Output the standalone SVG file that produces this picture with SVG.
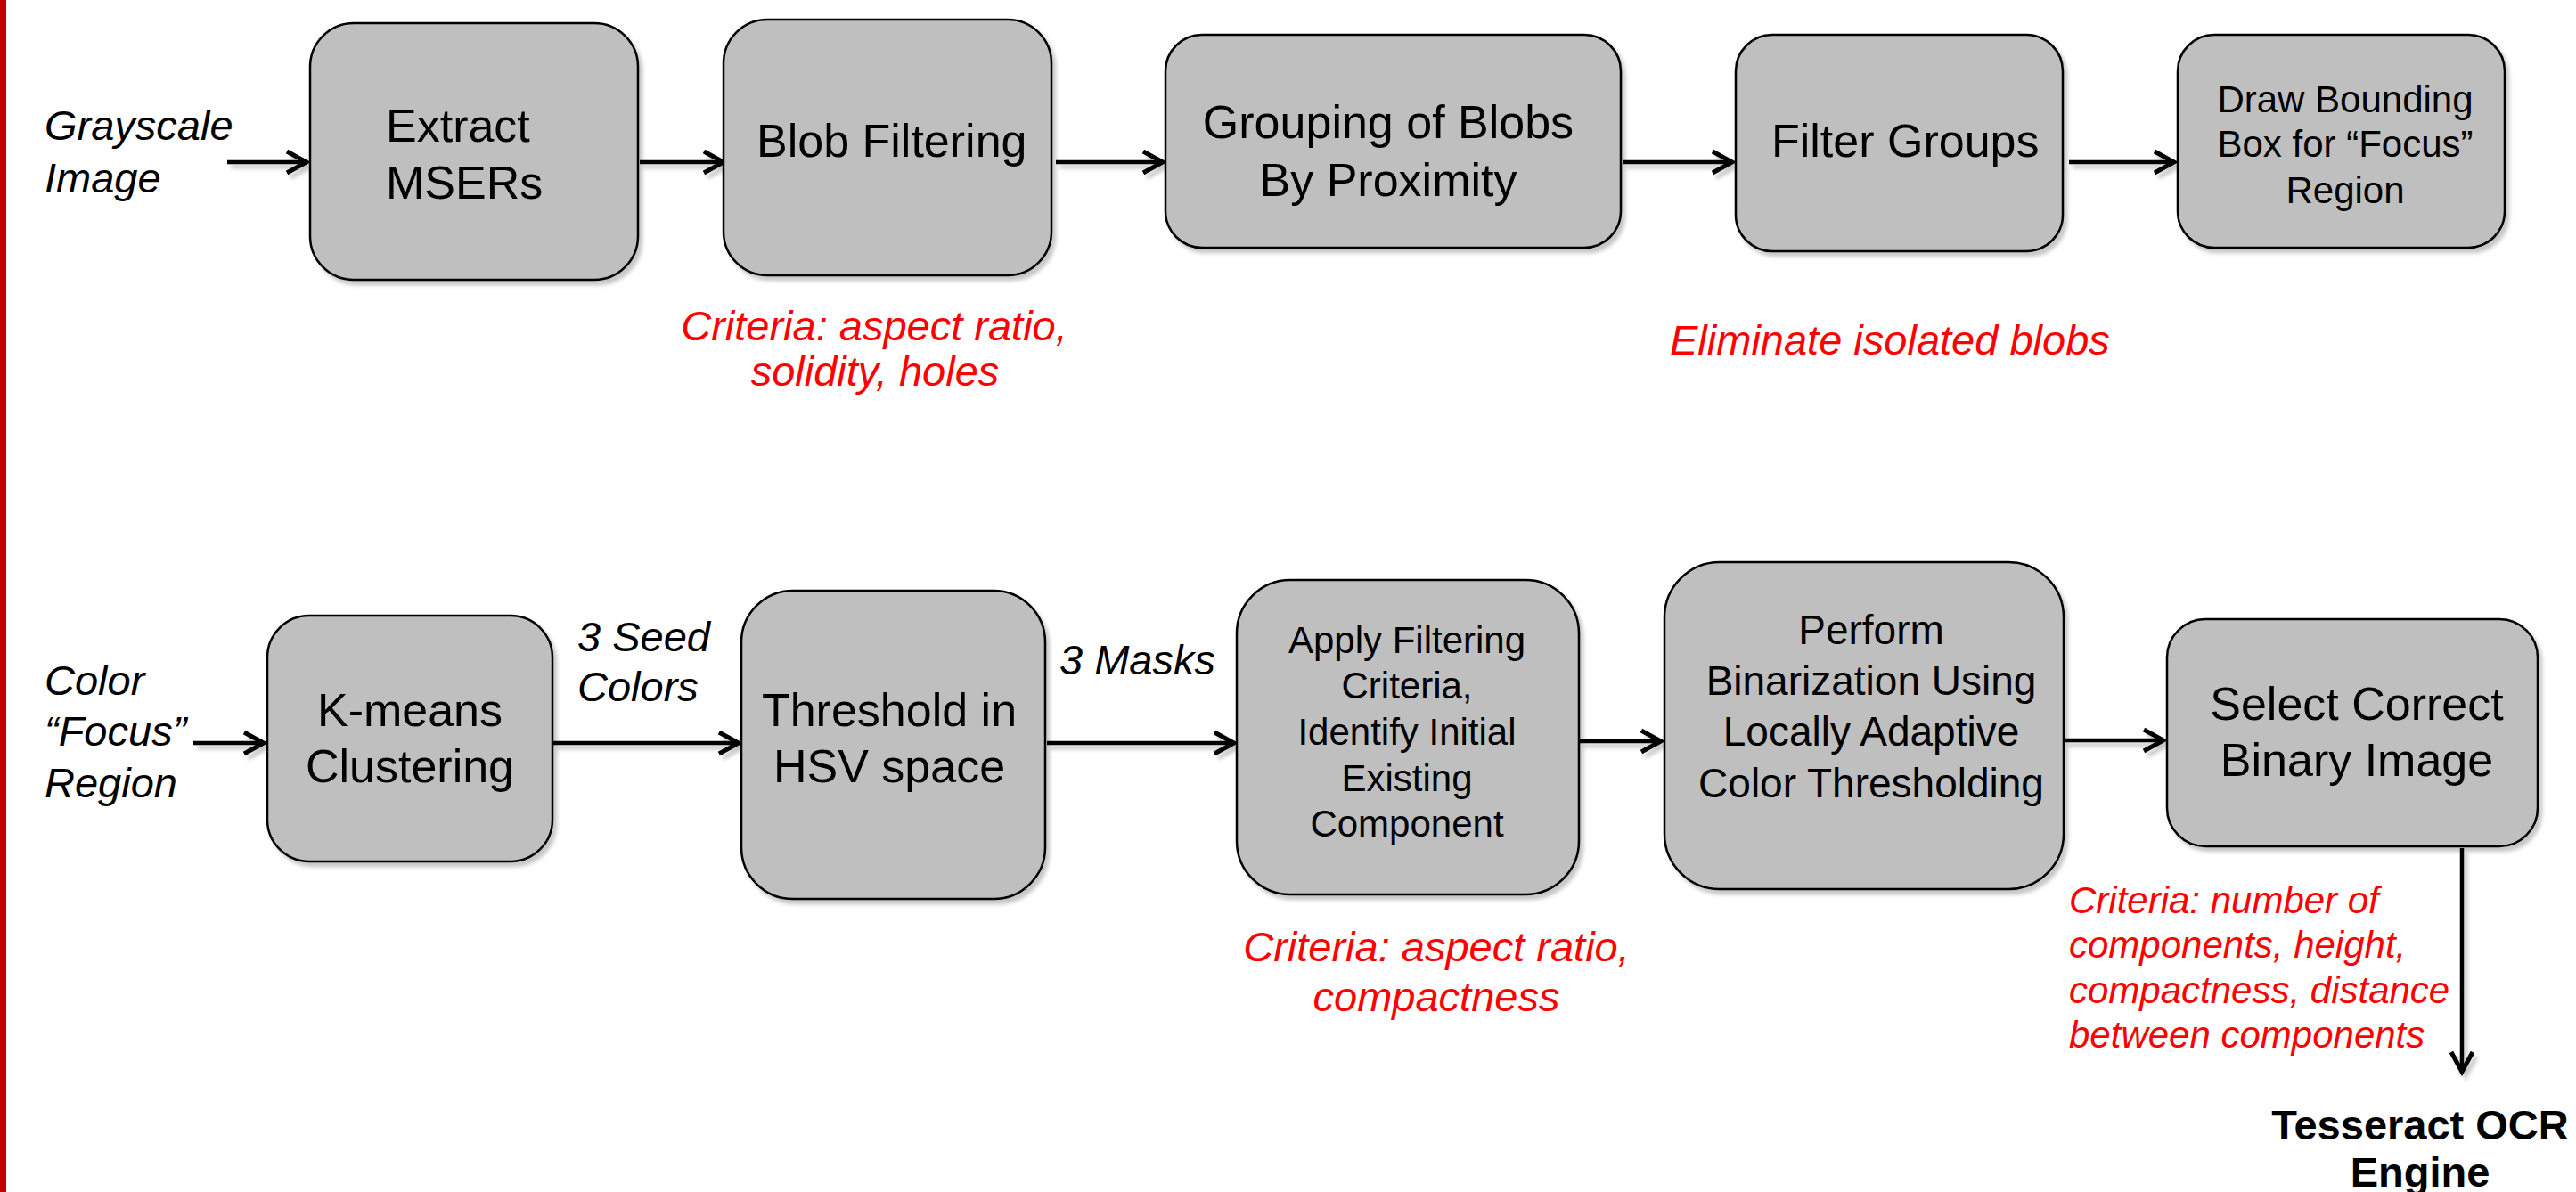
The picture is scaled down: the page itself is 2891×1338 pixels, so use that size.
<svg xmlns="http://www.w3.org/2000/svg" width="2891" height="1338" viewBox="0 0 2891 1338">
<defs>
<style>
.box{fill:#BFBFBF;stroke:#000;stroke-width:2.5;filter:url(#sh)}
.t{font-family:"Liberation Sans",Arial,sans-serif;fill:#000}
.m{text-anchor:middle}
.i{font-style:italic}
.r{fill:#FF0000}
.c{fill:none;stroke:#000;stroke-width:4.5;marker-end:url(#ah)}
</style>
<filter id="sh" x="-10%" y="-10%" width="130%" height="130%">
<feDropShadow dx="4" dy="5" stdDeviation="2" flood-color="#000" flood-opacity="0.22"/>
</filter>
<marker id="ah" markerUnits="userSpaceOnUse" viewBox="0 0 30 30" refX="25" refY="15" markerWidth="30" markerHeight="30" orient="auto">
<path d="M3,3 L25,15 L3,27" fill="none" stroke="#000" stroke-width="5" stroke-linejoin="miter"/>
</marker>
</defs>
<rect x="0" y="0" width="7" height="1338" fill="#C00000"/>
<g id="connectors" filter="url(#sh)">
<path class="c" d="M255,182 H344"/>
<path class="c" d="M718,182 H812"/>
<path class="c" d="M1185,182 H1305"/>
<path class="c" d="M1821,182 H1944"/>
<path class="c" d="M2322,182 H2440"/>
<path class="c" d="M217,834 H296"/>
<path class="c" d="M621,834 H829"/>
<path class="c" d="M1175,834 H1385"/>
<path class="c" d="M1773,832 H1864"/>
<path class="c" d="M2317,831 H2428"/>
<path class="c" d="M2763,952 V1203"/>
</g>
<g id="input-gray">
<text class="t i" x="50" y="157" font-size="47">Grayscale</text>
<text class="t i" x="50" y="216" font-size="47">Image</text>
</g>
<g id="extract">
<rect class="box" x="348" y="26" width="368" height="288" rx="49"/>
<text class="t" x="433" y="159" font-size="52">Extract</text>
<text class="t" x="433" y="223" font-size="52">MSERs</text>
</g>
<g id="blobfilter">
<rect class="box" x="812" y="22" width="368" height="287" rx="49"/>
<text class="t" x="849" y="176" font-size="52">Blob Filtering</text>
</g>
<g id="blobfilter-note">
<text class="t i r m" x="981" y="382" font-size="47">Criteria: aspect ratio,</text>
<text class="t i r m" x="982" y="433" font-size="47">solidity, holes</text>
</g>
<g id="grouping">
<rect class="box" x="1308" y="39" width="511" height="239" rx="41"/>
<text class="t m" x="1558" y="155" font-size="52">Grouping of Blobs</text>
<text class="t m" x="1558" y="220" font-size="52">By Proximity</text>
</g>
<g id="filtergroups">
<rect class="box" x="1948" y="39" width="367" height="243" rx="41"/>
<text class="t" x="1988" y="176" font-size="52">Filter Groups</text>
</g>
<g id="filtergroups-note">
<text class="t i r" x="1874" y="398" font-size="47">Eliminate isolated blobs</text>
</g>
<g id="drawbox">
<rect class="box" x="2444" y="39" width="367" height="239" rx="41"/>
<text class="t m" x="2632" y="126" font-size="42">Draw Bounding</text>
<text class="t m" x="2632" y="176" font-size="42">Box for “Focus”</text>
<text class="t m" x="2632" y="228" font-size="42">Region</text>
</g>
<g id="input-color">
<text class="t i" x="50" y="780" font-size="47">Color</text>
<text class="t i" x="50" y="837" font-size="47">“Focus”</text>
<text class="t i" x="50" y="895" font-size="47">Region</text>
</g>
<g id="kmeans">
<rect class="box" x="300" y="691" width="320" height="276" rx="47"/>
<text class="t m" x="460" y="815" font-size="52">K-means</text>
<text class="t m" x="460" y="878" font-size="52">Clustering</text>
</g>
<g id="seed-label">
<text class="t i" x="648" y="731" font-size="47">3 Seed</text>
<text class="t i" x="648" y="787" font-size="47">Colors</text>
</g>
<g id="threshold">
<rect class="box" x="832" y="663" width="341" height="346" rx="58"/>
<text class="t m" x="998" y="815" font-size="52">Threshold in</text>
<text class="t m" x="998" y="878" font-size="52">HSV space</text>
</g>
<g id="masks-label">
<text class="t i" x="1189" y="757" font-size="47">3 Masks</text>
</g>
<g id="apply">
<rect class="box" x="1388" y="651" width="384" height="353" rx="60"/>
<text class="t m" x="1579" y="733" font-size="42">Apply Filtering</text>
<text class="t m" x="1579" y="784" font-size="42">Criteria,</text>
<text class="t m" x="1579" y="836" font-size="42">Identify Initial</text>
<text class="t m" x="1579" y="888" font-size="42">Existing</text>
<text class="t m" x="1579" y="939" font-size="42">Component</text>
</g>
<g id="apply-note">
<text class="t i r m" x="1612" y="1079" font-size="47">Criteria: aspect ratio,</text>
<text class="t i r m" x="1612" y="1135" font-size="47">compactness</text>
</g>
<g id="perform">
<rect class="box" x="1868" y="631" width="448" height="367" rx="62"/>
<text class="t m" x="2100" y="723" font-size="46">Perform</text>
<text class="t m" x="2100" y="780" font-size="46">Binarization Using</text>
<text class="t m" x="2100" y="837" font-size="46">Locally Adaptive</text>
<text class="t m" x="2100" y="895" font-size="46">Color Thresholding</text>
</g>
<g id="select">
<rect class="box" x="2432" y="695" width="416" height="255" rx="43"/>
<text class="t m" x="2645" y="808" font-size="52">Select Correct</text>
<text class="t m" x="2645" y="871" font-size="52">Binary Image</text>
</g>
<g id="select-note">
<text class="t i r" x="2322" y="1025" font-size="42">Criteria: number of</text>
<text class="t i r" x="2322" y="1075" font-size="42">components, height,</text>
<text class="t i r" x="2322" y="1126" font-size="42">compactness, distance</text>
<text class="t i r" x="2322" y="1176" font-size="42">between components</text>
</g>
<g id="tesseract">
<text class="t m" x="2716" y="1279" font-size="47" font-weight="bold">Tesseract OCR</text>
<text class="t m" x="2716" y="1332" font-size="47" font-weight="bold">Engine</text>
</g>
</svg>
